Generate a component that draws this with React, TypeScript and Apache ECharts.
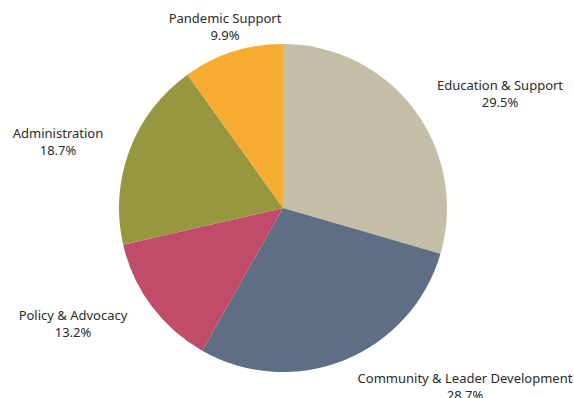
import React, { useEffect, useRef } from "react";
import * as echarts from "echarts";

const categories = [
  "Education & Support",
  "Community & Leader Development",
  "Policy & Advocacy",
  "Administration",
  "Pandemic Support",
];
const values = [29.5, 28.7, 13.2, 18.7, 9.9];
const colors = ["#C4BEA6", "#5E6E84", "#C14B6A", "#989740", "#F5AC31"];
// label centers (layout only)
const labelPos: [number, number][] = [
  [500, 93],
  [465, 386],
  [73, 323],
  [58, 141],
  [225, 26],
];

export default function App() {
  const ref = useRef<HTMLDivElement>(null);
  useEffect(() => {
    document.body.style.margin = "0";
    const chart = echarts.init(ref.current!, undefined, { renderer: "svg" });
    chart.setOption({
      animation: false,
      backgroundColor: "#ffffff",
      series: [
        {
          type: "pie",
          center: [283, 208],
          radius: 164,
          startAngle: 90,
          clockwise: true,
          data: categories.map((c, i) => ({
            name: c,
            value: values[i],
            itemStyle: { color: colors[i] },
          })),
          label: {
            show: true,
            position: "outside",
            formatter: (p: any) => `${p.name}\n${p.value.toFixed(1)}%`,
            color: "#2b2b2b",
            fontFamily: "Noto Sans",
            fontSize: 13,
            lineHeight: 17,
            align: "center",
            overflow: "none",
            width: 300,
          },
          labelLine: { show: false },
          labelLayout: (p: any) => ({
            x: labelPos[p.dataIndex][0],
            y: labelPos[p.dataIndex][1],
            align: "center",
            verticalAlign: "middle",
          }),
          emphasis: { disabled: true },
        },
      ],
    });
    return () => chart.dispose();
  }, []);
  return <div ref={ref} style={{ width: 574, height: 398 }} />;
}
